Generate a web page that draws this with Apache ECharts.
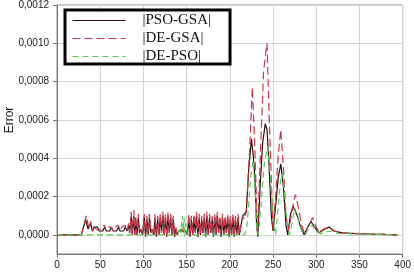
<!DOCTYPE html>
<html><head><meta charset="utf-8">
<script src="https://cdn.jsdelivr.net/npm/echarts@6/dist/echarts.min.js"></script>
<style>html,body{margin:0;padding:0;background:#fff}#c{width:414px;height:272px}</style>
</head><body><div id="c"></div>
<script>
const seriesNames = ['|PSO-GSA|', '|DE-GSA|', '|DE-PSO|'];
const xTicks = [0, 50, 100, 150, 200, 250, 300, 350, 400];
const yTicks = [0, 0.0002, 0.0004, 0.0006, 0.0008, 0.0010, 0.0012];

const psoGsa = [[0,0],[28,0],[30,3e-5],[33,8e-5],[36,3e-5],[39,6e-5],[41,2e-5],[43,4e-5],[45,3e-5],[47,4e-5],[49,2e-5],[51,3e-5],[53,2e-5],[55,4e-5],[57,2e-5],[59,3e-5],[61,2e-5],[63,4e-5],[65,2e-5],[67,3e-5],[69,2e-5],[71,4e-5],[73,2e-5],[75,3e-5],[77,2e-5],[79,4e-5],[81,2e-5],[83,5e-5],[84,1e-5],[86,10e-5],[87,0],[89,10e-5],[90,0],
[91,8e-5],[92.5,0],[94,9e-5],[95.5,1e-5],[97,3e-5],[99,0],[101,9e-5],[102.5,-1e-5],[104,8e-5],[105.5,0],[107,9e-5],[108.5,1e-5],[110,3e-5],[112,0],[113.5,9e-5],[115,-1e-5],[116.5,8e-5],[118,0],[119.5,9e-5],[121,1e-5],[122.5,10e-5],[124,0],[125.5,9e-5],[127,-1e-5],[128.5,10e-5],[130,1e-5],[131.5,9e-5],[133,0],[134.5,8e-5],[136,-1e-5],[137.5,3e-5],[139,0],[141,2e-5],[143,1e-5],[145,2e-5],[147,1e-5],[149,2e-5],[151,0],[152.5,9e-5],[154,-1e-5],[155.5,8e-5],[157,0],[158.5,9e-5],[160,1e-5],[161.5,10e-5],[163,-1e-5],[164.5,9e-5],[166,0],[167.5,8e-5],[169,1e-5],[170.5,9e-5],[172,-1e-5],[173.5,10e-5],[175,0],[176.5,9e-5],[178,1e-5],[179.5,8e-5],[181,-1e-5],[182.5,9e-5],[184,0],[185.5,10e-5],[187,1e-5],[188.5,8e-5],[190,-1e-5],[191.5,9e-5],[193,0],[194.5,8e-5],[196,1e-5],[197.5,9e-5],[199,-1e-5],[200.5,8e-5],[202,0],[203.5,9e-5],[205,-1e-5],[206.5,8e-5],[208,0],[209.5,9e-5],[211,0],[213,-1e-5],
[215,10e-5],[217,9e-5],[219,12e-5],[222,35e-5],[225,50e-5],[227,42e-5],[229,30e-5],[231,5e-5],[232.5,-1e-5],[235,25e-5],[238,48e-5],[241,58e-5],[243,55e-5],[245,40e-5],[248,10e-5],[250,2e-5],[253,15e-5],[256,30e-5],[259,37e-5],[262,25e-5],[265,5e-5],[267,0],[270,10e-5],[273,15e-5],[275,16e-5],[278,10e-5],[282,4e-5],[286,0],[290,4e-5],[294,7e-5],[298,4e-5],[303,1e-5],[309,3e-5],[315,4e-5],[321,2e-5],[330,1e-5],[345,0.6e-5],[370,0.3e-5],[394,0]];

const deGsa = [[0,0],[28,0],[30,3e-5],[34,10e-5],[37,3e-5],[39,7e-5],[41,2e-5],[43,5e-5],[45,3e-5],[47,4e-5],[49,2e-5],[51,4e-5],[53,3e-5],[55,5e-5],[57,2e-5],[59,4e-5],[61,3e-5],[63,4e-5],[65,2e-5],[67,4e-5],[69,3e-5],[71,5e-5],[73,2e-5],[75,4e-5],[77,3e-5],[79,5e-5],[81,2e-5],[83,6e-5],[84,1e-5],[86,12e-5],[87,0],[89,13e-5],[90,0],
[91,10e-5],[92.5,0],[94,11e-5],[95.5,1e-5],[97,3e-5],[99,0],[101,11e-5],[102.5,-1e-5],[104,10e-5],[105.5,0],[107,11e-5],[108.5,1e-5],[110,3e-5],[112,0],[113.5,11e-5],[115,-1e-5],[116.5,10e-5],[118,0],[119.5,11e-5],[121,1e-5],[122.5,12e-5],[124,0],[125.5,11e-5],[127,-1e-5],[128.5,12e-5],[130,1e-5],[131.5,11e-5],[133,0],[134.5,10e-5],[136,-1e-5],[137.5,4e-5],[139,0],[141,2e-5],[143,1e-5],[145,3e-5],[147,1e-5],[149,2e-5],[151,0],[152.5,11e-5],[154,-1e-5],[155.5,10e-5],[157,0],[158.5,11e-5],[160,1e-5],[161.5,12e-5],[163,-1e-5],[164.5,11e-5],[166,0],[167.5,10e-5],[169,1e-5],[170.5,11e-5],[172,-1e-5],[173.5,12e-5],[175,0],[176.5,11e-5],[178,1e-5],[179.5,10e-5],[181,-1e-5],[182.5,11e-5],[184,0],[185.5,12e-5],[187,1e-5],[188.5,10e-5],[190,-1e-5],[191.5,11e-5],[193,0],[194.5,10e-5],[196,1e-5],[197.5,11e-5],[199,-1e-5],[200.5,10e-5],[202,0],[203.5,11e-5],[205,-1e-5],[206.5,10e-5],[208,0],[209.5,11e-5],[211,0],[213,-1e-5],
[215,10e-5],[216.5,8e-5],[219,12e-5],[223,45e-5],[226,77e-5],[229,45e-5],[232,0],[236,50e-5],[239,85e-5],[243,100e-5],[246,55e-5],[250,3e-5],[253,20e-5],[256,42e-5],[259,55e-5],[262,35e-5],[265,10e-5],[268,2e-5],[271,10e-5],[274,18e-5],[276,21e-5],[279,15e-5],[283,5e-5],[287,0],[291,5e-5],[296,9e-5],[300,4e-5],[304,1e-5],[310,3e-5],[315,4e-5],[320,2e-5],[330,1e-5],[340,0.8e-5],[360,0.5e-5],[380,0.3e-5],[394,0]];

const dePso = [[0,0],[140,0],[142,4e-5],[143,1e-5],[145,10e-5],[146,2e-5],[147,9e-5],[148,-1e-5],[149,6e-5],[151,0],[217,0],[220,5e-5],[224,30e-5],[227,39e-5],[229,25e-5],[231,5e-5],[233,0],[236,15e-5],[240,38e-5],[244,46e-5],[247,30e-5],[251,5e-5],[253,0],[256,15e-5],[259,30e-5],[261,32e-5],[264,18e-5],[267,3e-5],[269,0],[272,6e-5],[275,14e-5],[278,10e-5],[283,2e-5],[287,0],[291,3e-5],[295,5e-5],[299,3e-5],[305,0.5e-5],[315,2e-5],[325,0.8e-5],[340,0.5e-5],[394,0]];

const colors = ['#2a0d0d', '#c8374a', '#55c855'];
const chart = echarts.init(document.getElementById('c'), null, {renderer: 'canvas'});
const lineTypes = ['solid', [8, 4], [6, 4]];
const dataSets = [psoGsa, deGsa, dePso];
chart.setOption({
  animation: false,
  grid: {left: 57, right: 8, top: 4, bottom: 18, show: true, borderColor: '#8a8a8a', borderWidth: 1},
  legend: {
    show: true,
    orient: 'vertical', left: 65, top: 10,
    itemWidth: 53, itemHeight: 12, itemGap: 3,
    padding: [3, 19, 0, 7],
    borderColor: '#000', borderWidth: 3,
    backgroundColor: '#fff',
    itemStyle: {opacity: 0},
    lineStyle: {width: 1},
    textStyle: {fontFamily: 'Liberation Serif', fontSize: 15, color: '#111', padding: [0, 0, 0, 12], lineHeight: 15}
  },
  xAxis: {
    type: 'value', min: 0, max: 400, interval: 50,
    axisLine: {onZero: false, lineStyle: {color: '#777'}},
    axisTick: {show: true, inside: false, length: 4, lineStyle: {color: '#777'}},
    axisLabel: {fontFamily: 'Liberation Sans', fontSize: 10, color: '#222', margin: 6},
    splitLine: {show: true, lineStyle: {color: '#d4d4d4', width: 1}}
  },
  yAxis: {
    type: 'value', min: -0.0001, max: 0.0012,
    axisLine: {show: true, lineStyle: {color: '#777'}},
    axisTick: {show: true, length: 4, customValues: yTicks, lineStyle: {color: '#777'}},
    axisLabel: {customValues: yTicks, fontFamily: 'Liberation Sans', fontSize: 10, color: '#222', margin: 8,
      formatter: v => v.toFixed(4).replace('.', ',')},
    splitLine: {show: true, lineStyle: {color: '#d4d4d4', width: 1}}
  },
  graphic: [{type: 'text', x: 4, y: 120, rotation: Math.PI / 2, style: {text: 'Error', font: '12px "Liberation Sans"', fill: '#222', textAlign: 'center', textVerticalAlign: 'top'}}],
  series: dataSets.map((d, i) => ({
    name: seriesNames[i], type: 'line', data: d, showSymbol: false, symbol: 'none',
    lineStyle: {color: colors[i], width: 1.2, type: lineTypes[i]},
    itemStyle: {color: colors[i]}
  }))
});
</script></body></html>
